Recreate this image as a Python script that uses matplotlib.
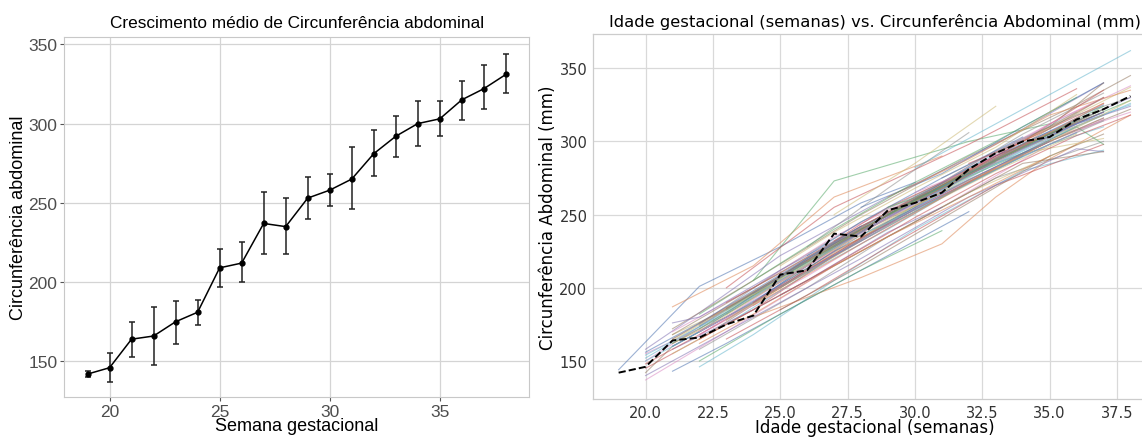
import numpy as np
import matplotlib.pyplot as plt

# mean abdominal circumference per gestational week (left panel)
weeks = [19, 20, 21, 22, 23, 24, 25, 26, 27, 28, 29, 30, 31, 32, 33, 34, 35, 36, 37, 38]
ac_mean = [142, 146, 164, 166, 175, 181, 209, 212, 237, 235, 253, 258, 265, 281, 292, 300, 303, 315, 322, 331]
ac_low = [140, 137, 153, 148, 161, 173, 197, 200, 218, 218, 240, 248, 246, 267, 279, 286, 292, 302, 309, 319]
ac_high = [144, 155, 175, 184, 188, 189, 221, 225, 257, 253, 266, 268, 285, 296, 305, 314, 314, 327, 337, 344]

# individual trajectories (right panel)
sub_weeks = [
    [19, 22, 25, 28, 30], [21, 24, 27, 31], [22, 24, 27, 32, 35], [23, 27, 32, 36],
    [20, 22, 25, 29, 33, 37], [21, 24, 28, 32, 36, 38], [20, 23, 26, 29, 32, 35, 38],
    [22, 25, 28, 31, 34, 37], [21, 23, 26, 30, 34, 38], [20, 24, 27, 30, 33, 36],
    [22, 26, 30, 34, 37], [21, 25, 29, 33, 37], [23, 26, 29, 32, 35, 38],
    [20, 22, 24, 27, 30, 33, 36], [21, 24, 27, 30, 33, 37], [22, 25, 28, 31, 35, 38],
    [20, 23, 27, 31, 35, 37], [22, 26, 29, 33, 37], [21, 25, 28, 32, 36],
    [22, 24, 27, 30, 34, 37], [21, 23, 26, 29, 32], [24, 28, 31, 33, 35, 38],
    [22, 25, 28, 31], [23, 26, 29, 33, 37], [20, 24, 28, 32, 36, 37],
    [25, 28, 31, 34, 37], [21, 24, 27, 30], [26, 29, 32], [27, 30, 33],
    [30, 33, 36, 38], [28, 31, 34, 37], [29, 32, 35, 38], [24, 27, 30, 33, 36],
    [23, 25, 28, 31, 34, 37], [21, 22, 25, 28, 31, 34], [20, 21, 24, 27, 30, 33, 35],
    [22, 24, 26, 28, 31, 35, 38], [23, 27, 30, 34, 37], [25, 27, 30, 33, 36],
    [26, 29, 32, 35, 37], [24, 26, 29, 32, 36], [21, 23, 25, 27, 29],
    [22, 23, 26, 28, 31, 33], [27, 29, 31, 33, 35, 37], [28, 30, 32, 34, 36],
    [25, 28, 32, 35, 37], [20, 22, 25, 27], [31, 34, 36, 38],
    [24, 27, 29, 32, 34, 37], [23, 25, 27, 30, 33, 36, 38], [26, 28, 31, 34],
    [22, 24, 27, 29, 32, 35], [29, 31, 34, 36, 37], [32, 34, 37],
    [21, 24, 26, 29, 31], [33, 35, 37], [30, 32, 35, 37],
    [21, 24, 27, 30, 33, 36], [22, 25, 28, 31, 34, 37], [20, 23, 26, 29, 32, 35, 38],
    [21, 23, 25, 28, 31, 34, 37], [22, 24, 26, 29, 32, 35], [23, 26, 29, 32, 35, 37],
    [20, 22, 25, 28, 31, 34], [24, 27, 30, 33, 36, 38], [21, 24, 28, 31, 35, 37],
    [22, 26, 29, 33, 36], [25, 28, 31, 34, 37], [23, 25, 28, 30, 33, 36],
    [20, 24, 27, 31, 34], [22, 25, 27, 30, 32, 35, 37], [26, 29, 31, 34, 37],
    [21, 22, 25, 28, 32], [24, 26, 28, 31, 33], [27, 30, 33, 36, 38],
    [23, 27, 31, 34, 37], [22, 23, 25, 27, 29, 31], [25, 27, 29, 32, 34, 37],
    [21, 25, 28, 30, 33, 35, 38], [28, 31, 34, 36], [20, 22, 24, 26, 28],
    [24, 28, 32, 35, 37], [29, 32, 34, 37], [22, 26, 30, 33, 36, 38],
    [26, 28, 30, 32, 35],
]
sub_ac = [
    [144, 201, 228, 258, 272], [187, 215, 262, 290], [182, 205, 273, 300, 312], [200, 255, 298, 336],
    [158, 183, 222, 262, 298, 340], [172, 205, 250, 290, 325, 345], [150, 185, 215, 250, 283, 312, 338],
    [175, 212, 245, 272, 305, 333], [168, 185, 220, 262, 300, 337], [152, 195, 230, 262, 292, 320],
    [170, 220, 262, 298, 325], [165, 208, 252, 290, 330], [178, 212, 245, 278, 305, 328],
    [145, 165, 185, 222, 255, 288, 315], [160, 190, 228, 258, 290, 320], [165, 200, 238, 265, 300, 322],
    [137, 170, 215, 255, 298, 315], [158, 200, 235, 275, 300], [155, 195, 225, 265, 298],
    [146, 168, 205, 240, 280, 294], [143, 162, 192, 222, 252], [180, 207, 230, 262, 288, 318],
    [150, 182, 212, 239], [165, 195, 228, 270, 298], [140, 180, 220, 262, 295, 293],
    [195, 225, 255, 285, 293], [170, 200, 235, 262], [228, 268, 306], [250, 285, 324],
    [282, 312, 342, 362], [255, 278, 310, 340], [262, 288, 318, 335], [205, 240, 272, 300, 330],
    [190, 210, 242, 270, 300, 326], [176, 180, 212, 242, 268, 296], [142, 160, 190, 225, 252, 282, 300],
    [168, 188, 208, 230, 262, 302, 320], [182, 228, 260, 296, 318], [215, 238, 268, 296, 332],
    [210, 240, 272, 298, 310], [190, 215, 250, 282, 315], [162, 180, 200, 224, 245],
    [172, 182, 215, 240, 268, 286], [232, 255, 272, 290, 305, 320], [240, 258, 278, 292, 310],
    [185, 215, 258, 290, 305], [155, 172, 205, 225], [275, 302, 318, 330],
    [195, 222, 245, 272, 292, 302], [175, 198, 222, 255, 285, 312, 325], [222, 245, 275, 303],
    [162, 182, 215, 235, 262, 290], [255, 268, 292, 310, 298], [285, 300, 335],
    [158, 185, 205, 238, 255], [292, 310, 340], [265, 280, 312, 330],
    [165, 196, 228, 258, 287, 312], [170, 204, 238, 266, 295, 318], [154, 183, 216, 248, 276, 302, 326],
    [160, 180, 202, 236, 264, 292, 316], [176, 196, 218, 250, 280, 306], [185, 218, 250, 279, 305, 322],
    [148, 168, 200, 232, 262, 290], [196, 229, 260, 288, 314, 330], [168, 200, 242, 270, 305, 322],
    [168, 212, 244, 282, 306], [208, 240, 268, 298, 322], [178, 200, 232, 252, 280, 305],
    [150, 190, 222, 262, 290], [174, 208, 230, 260, 278, 304, 320], [218, 250, 268, 296, 326],
    [162, 172, 206, 240, 280], [190, 212, 234, 263, 282], [228, 258, 286, 312, 324],
    [186, 230, 270, 298, 330], [170, 180, 204, 226, 248, 266], [200, 222, 244, 272, 290, 314],
    [164, 206, 236, 256, 282, 300, 328], [236, 262, 290, 306], [156, 176, 198, 220, 242],
    [188, 230, 272, 300, 316], [250, 278, 296, 324], [165, 205, 248, 278, 304, 318],
    [212, 232, 254, 274, 300],
]

fig = plt.figure(figsize=(11.42, 4.39), dpi=100)

# left panel, ggplot-like look
ax1 = fig.add_axes([0.0564, 0.094, 0.4068, 0.8194])
lf = ['Liberation Sans', 'DejaVu Sans']
yerr = [np.array(ac_mean) - np.array(ac_low), np.array(ac_high) - np.array(ac_mean)]
ax1.errorbar(weeks, ac_mean, yerr=yerr, color='black', lw=1.1, marker='o', ms=3.5,
             ecolor='#222222', elinewidth=1.1, capsize=2.5, capthick=1.1, zorder=3)
ax1.set_xlim(17.95, 39.05)
ax1.set_ylim(127.7, 354.6)
ax1.set_xticks([20, 25, 30, 35])
ax1.set_yticks([150, 200, 250, 300, 350])
ax1.grid(True, color='#d4d4d4', lw=0.9)
ax1.set_axisbelow(True)
for s in ax1.spines.values():
    s.set_color('#c8c8c8')
    s.set_linewidth(0.8)
ax1.tick_params(length=3, color='#555555', labelcolor='#4d4d4d', labelsize=12.5, pad=2)
for lab in ax1.get_xticklabels() + ax1.get_yticklabels():
    lab.set_family(lf)
ax1.set_title('Crescimento médio de Circunferência abdominal', fontsize=12.4, family=lf, pad=7)
ax1.set_xlabel('Semana gestacional', fontsize=13, family=lf, labelpad=-1)
ax1.set_ylabel('Circunferência abdominal', fontsize=13, family=lf, labelpad=1)

# right panel, seaborn whitegrid-like look
ax2 = fig.add_axes([0.5193, 0.0888, 0.493, 0.8315])
colors = ['#4C72B0', '#DD8452', '#55A868', '#C44E52', '#8172B3',
          '#937860', '#DA8BC3', '#8C8C8C', '#CCB974', '#64B5CD']
for i, (w, v) in enumerate(zip(sub_weeks, sub_ac)):
    ax2.plot(w, v, color=colors[i % len(colors)], lw=0.8, alpha=0.55)
ax2.plot(weeks, ac_mean, color='black', lw=1.4, ls='--', zorder=5)
ax2.set_xlim(18.05, 38.95)
ax2.set_ylim(124, 373.4)
ax2.set_xticks([20.0, 22.5, 25.0, 27.5, 30.0, 32.5, 35.0, 37.5])
ax2.set_yticks([150, 200, 250, 300, 350])
ax2.grid(True, color='#d9d9d9', lw=0.9)
ax2.set_axisbelow(True)
for s in ax2.spines.values():
    s.set_color('#cccccc')
    s.set_linewidth(0.9)
ax2.tick_params(length=0, labelcolor='#333333', labelsize=10.5, pad=4)
ax2.set_title('Idade gestacional (semanas) vs. Circunferência Abdominal (mm)', fontsize=11.8)
ax2.set_xlabel('Idade gestacional (semanas)', fontsize=12, labelpad=-1)
ax2.set_ylabel('Circunferência Abdominal (mm)', fontsize=12, labelpad=2)

fig.savefig('out.png', dpi=100)
